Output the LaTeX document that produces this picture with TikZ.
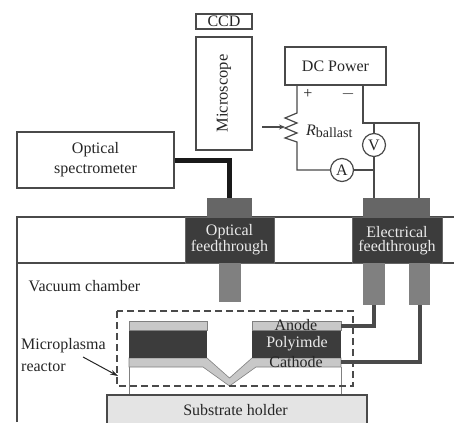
\documentclass[tikz,border=0pt]{standalone}
\usepackage{fontspec}
\setmainfont{Liberation Serif}
\usetikzlibrary{arrows.meta,positioning,calc}
\definecolor{darkblock}{HTML}{3C3C3C}
\definecolor{midblock}{HTML}{666666}
\definecolor{lowblock}{HTML}{808080}
\definecolor{layer}{HTML}{C8C8C8}
\definecolor{holder}{HTML}{E4E4E4}
\definecolor{wirecol}{HTML}{4A4A4A}

\begin{document}
\begin{tikzpicture}[
  x=1pt, y=-1pt,
  lbl/.style={font=\fontsize{16}{18}\selectfont, text=black!85, inner sep=0pt},
  whitelbl/.style={lbl, text=white!92!black, align=center},
  whitebox/.style={rectangle, draw=wirecol, line width=1.2pt, fill=white, inner sep=0pt, font=\fontsize{16}{18}\selectfont, text=black!85},
  flange/.style={rectangle, fill=midblock, inner sep=0pt},
  feed/.style={rectangle, draw=black!60, line width=0.6pt, fill=darkblock, inner sep=0pt},
  probe/.style={rectangle, fill=lowblock, inner sep=0pt},
  meter/.style={circle, draw=wirecol, line width=1.2pt, fill=white, minimum size=23pt, inner sep=0pt, font=\fontsize{16}{18}\selectfont, text=black!85},
  wire/.style={draw=wirecol, line width=1.2pt},
  heavy/.style={draw=wirecol, line width=4pt},
  fibre/.style={draw=black!90, line width=5pt},
  wall/.style={draw=wirecol, line width=1.2pt},
]
\useasboundingbox (0,0) rectangle (454,422);

% chamber walls
\coordinate (wallA) at (17,217);
\coordinate (wallB) at (454,217);
\coordinate (wallC) at (17,263);
\coordinate (wallD) at (454,263);
\coordinate (wallE) at (17,422);
\draw[wall] (wallE) -- (wallA) -- (wallB);
\draw[wall] (wallC) -- (wallD);

% microscope and power supply
\node[whitebox, minimum width=56pt, minimum height=15pt, text height=10pt, text depth=0pt] (ccd) at (224,21.5) {CCD};
\node[whitebox, minimum width=56pt, minimum height=113pt] (scope) at (224,93.5) {\rotatebox{90}{\fontsize{16.5}{18}\selectfont Microscope}};
\node[whitebox, minimum width=101pt, minimum height=38pt] (power) at (335.5,66) {DC Power};
\node[whitebox, minimum width=157pt, minimum height=56pt, align=center] (spec) at (95.5,160) {Optical\\[2pt]spectrometer};

% feedthroughs
\node[flange, minimum width=45pt, minimum height=19pt] (optTop) at (229.5,207.5) {};
\node[feed, minimum width=89pt, minimum height=46pt] (optFeed) at (229.5,240) {};
\node[probe, minimum width=22pt, minimum height=39pt] (optLow) at (230,282.5) {};
\node[flange, minimum width=67pt, minimum height=19pt] (elecTop) at (396.5,207.5) {};
\node[feed, minimum width=90pt, minimum height=46pt] (elecFeed) at (397,240) {};
\node[probe, minimum width=22pt, minimum height=42pt] (elecLowA) at (374,284) {};
\node[probe, minimum width=21pt, minimum height=42pt] (elecLowB) at (419.5,284) {};
\node[whitelbl] at (229.5,232) {Optical};
\node[whitelbl] at (229.5,248) {feedthrough};
\node[whitelbl] at (397,232) {Electrical};
\node[whitelbl] at (397,248) {feedthrough};

\draw[fibre] (spec.east) -| (optTop.north);

% circuit
\coordinate (plus) at (297,85);
\coordinate (minus) at (363,85);
\coordinate (rTop) at (297,113);
\coordinate (rBot) at (297,142);
\coordinate (corner) at (297,170);
\coordinate (bend) at (363,123);
\coordinate (junction) at (374,123);
\coordinate (tap) at (374,170);
\coordinate (feedA) at (374,198);
\coordinate (feedB) at (419,198);
\coordinate (bendB) at (419,123);
\coordinate (slider) at (262,127);
\coordinate (sliderEnd) at (285,127);
\node[meter] (amp) at (342,170) {A};
\node[meter] (volt) at (374,145) {V};
\draw[wire] (plus) -- (rTop) -- (285,118) -- (297,123) -- (285,128) -- (297,133) -- (285,138) -- (rBot) -- (corner) -- (amp);
\draw[wire] (amp) -- (tap);
\draw[wire] (minus) -- (bend) -- (bendB) -- (feedB);
\draw[wire] (junction) -- (volt);
\draw[wire] (volt) -- (feedA);
\draw[wire, -{Stealth[length=6pt,width=5pt]}] (slider) -- (sliderEnd);
\node[lbl] at (308,94) {+};
\node[lbl] at (348,94) {$-$};
\node[lbl, anchor=west] at (306,131) {\textit{R}\raisebox{-2pt}{\fontsize{14}{16}\selectfont ballast}};

% reactor layers
\fill[layer, draw=black!50, line width=0.6pt] (129,358) -- (207,358) -- (229.5,378) -- (252,358) -- (341,358) -- (341,367) -- (256,367) -- (229.5,386) -- (203,367) -- (129,367) -- cycle;
\node[rectangle, fill=darkblock, minimum width=78pt, minimum height=28pt, inner sep=0pt] (polyL) at (168,344) {};
\node[rectangle, fill=darkblock, minimum width=89pt, minimum height=28pt, inner sep=0pt] (polyR) at (296.5,344) {};
\node[rectangle, fill=layer, draw=black!50, line width=0.6pt, minimum width=78pt, minimum height=9pt, inner sep=0pt] (anodeL) at (168,325.5) {};
\node[rectangle, fill=layer, draw=black!50, line width=0.6pt, minimum width=89pt, minimum height=9pt, inner sep=0pt] (anodeR) at (296.5,325.5) {};
\node[lbl] at (296,325) {Anode};
\node[whitelbl] at (297,344) {Polyimde};
\node[lbl] at (296,362) {Cathode};
\coordinate (cathodeEnd) at (341,362);
\coordinate (gapL) at (129,367);
\coordinate (gapR) at (341,367);

% holder
\node[rectangle, draw=wirecol, line width=1.2pt, fill=holder, minimum width=260pt, minimum height=34pt, inner sep=0pt] (holderBox) at (237,412) {};
\node[lbl] at (235.5,410) {Substrate holder};
\draw[draw=black!50, line width=0.8pt] (gapL) -- (gapL |- holderBox.north);
\draw[draw=black!50, line width=0.8pt] (gapR) -- (gapR |- holderBox.north);

\draw[heavy] (anodeR.east) -| (elecLowA.south);
\draw[heavy] (cathodeEnd) -| (elecLowB.south);

% reactor outline
\coordinate (dashA) at (117,311);
\coordinate (dashB) at (353,386);
\draw[draw=wirecol, line width=1.3pt, dash pattern=on 7pt off 4pt] (dashA) rectangle (dashB);

\node[lbl] at (84.5,286) {Vacuum chamber};
\node[lbl, anchor=west] at (21,346) {Microplasma};
\node[lbl, anchor=west] at (21,367) {reactor};
\coordinate (tailR) at (83,357);
\coordinate (tipR) at (118,376);
\draw[draw=black!85, line width=1pt, -{Stealth[length=8pt,width=5pt]}] (tailR) -- (tipR);
\end{tikzpicture}
\end{document}
